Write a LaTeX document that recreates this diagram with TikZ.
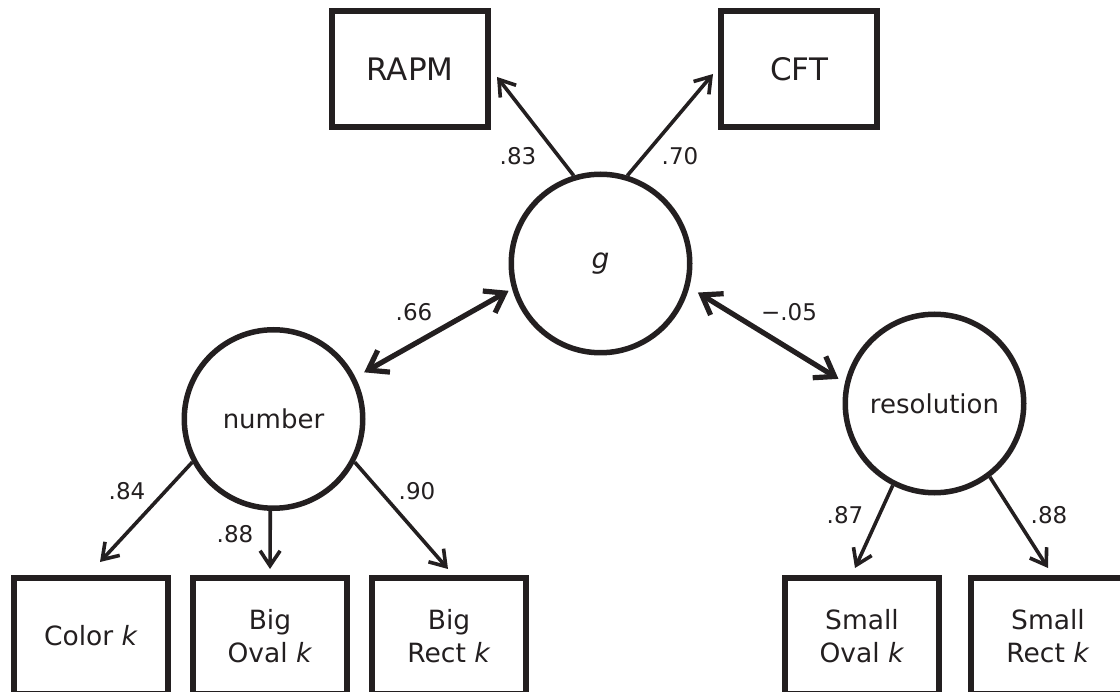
\documentclass[tikz,border=0pt]{standalone}
\usepackage{fontspec}
\setmainfont{DejaVu Sans}
\usetikzlibrary{arrows.meta}
\definecolor{ink}{HTML}{231F20}
\begin{document}
\begin{tikzpicture}[x=1pt,y=-1pt,
  measure/.style={draw=ink, text=ink, line width=6pt, rectangle, inner sep=0pt,
    minimum height=116pt, align=center, font=\fontsize{26.5}{33}\selectfont},
  topbox/.style={measure, minimum width=156pt, font=\fontsize{31}{36}\selectfont},
  lowbox/.style={measure, minimum width=154pt},
  factor/.style={draw=ink, text=ink, line width=5.5pt, circle, minimum size=178.5pt,
    inner sep=0pt, font=\fontsize{26}{31}\selectfont},
  loading/.style={draw=ink, line width=3.6pt, -{Straight Barb[length=15pt,width=20pt]}},
  correl/.style={draw=ink, line width=5.2pt,
    {Straight Barb[length=18pt,width=25pt]}-{Straight Barb[length=18pt,width=25pt]}},
  coef/.style={text=ink, inner sep=0pt, font=\fontsize{23}{26}\selectfont}]
\useasboundingbox (0,0) rectangle (1120,692);
\clip (0,0) rectangle (1120,692);

% observed indicators
\node[topbox] (rapm) at (410,69) {RAPM};
\node[topbox] (cft)  at (799,69) {CFT};
\node[lowbox] (color)    at (91,636)   {Color \textit{k}};
\node[lowbox] (bigoval)  at (270,636)  {Big\\Oval \textit{k}};
\node[lowbox] (bigrect)  at (449,636)  {Big\\Rect \textit{k}};
\node[lowbox] (smalloval) at (862,636) {Small\\Oval \textit{k}};
\node[lowbox] (smallrect) at (1048,636) {Small\\Rect \textit{k}};

% latent factors
\node[factor, font=\fontsize{28}{31}\selectfont] (g) at (600.5,263.5) {\textit{g}};
\node[factor] (number) at (273.5,419) {number};
\node[factor] (resolution) at (934.5,403.5) {resolution};

% factor loadings
\draw[loading] (g.107) -- ([shift={(6pt,-8pt)}]rapm.east);
\draw[loading] (g.73) -- ([shift={(-5pt,-5pt)}]cft.west);
\draw[loading] (number.208) -- ([shift={(9pt,13pt)}]color.north);
\draw[loading] (number.268) -- ([shift={(0pt,6pt)}]bigoval.north);
\draw[loading] (number.332) -- ([shift={(-1pt,6pt)}]bigrect.north);
\draw[loading] (resolution.243.6) -- ([shift={(-7pt,7pt)}]smalloval.north);
\draw[loading] (resolution.307.2) -- ([shift={(0pt,7pt)}]smallrect.north);

% factor correlations
\draw[correl, shorten <=4pt, shorten >=10pt] (g.196) -- (number.27);
\draw[correl, shorten <=10pt, shorten >=7.5pt] (g.345) -- (resolution.167);

% coefficients
\node[coef] (c83) at (518,156) {.83};
\node[coef] (c70) at (680,156) {.70};
\node[coef] (c66) at (414,312) {.66};
\node[coef] (c05) at (789,312) {−.05};
\node[coef] (c84) at (127,491) {.84};
\node[coef] (c88a) at (235,534) {.88};
\node[coef] (c90) at (417,491) {.90};
\node[coef] (c87) at (845,515) {.87};
\node[coef] (c88b) at (1049,515) {.88};
\end{tikzpicture}
\end{document}
